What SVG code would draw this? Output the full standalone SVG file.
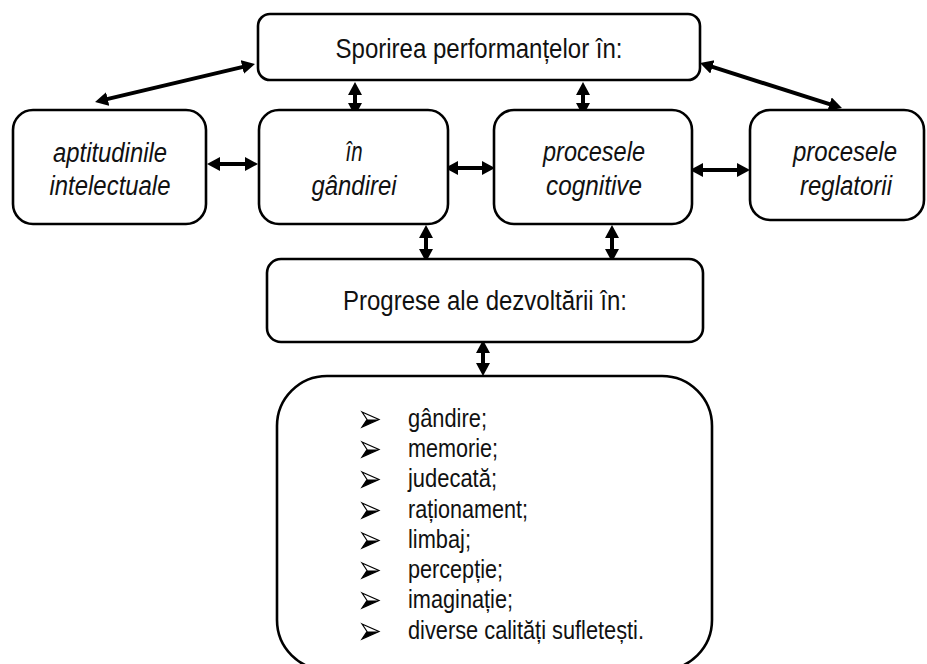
<svg xmlns="http://www.w3.org/2000/svg" width="927" height="664" viewBox="0 0 927 664">
  <style>
    .box { fill: #ffffff; stroke: #000000; stroke-width: 2.6; }
    .head { font-family: "Liberation Sans", Arial, sans-serif; font-size: 27px; fill: #111111; text-anchor: middle; }
    .lbl { font-family: "Liberation Sans", Arial, sans-serif; font-size: 27px; font-style: italic; fill: #111111; text-anchor: middle; }
    .item { font-family: "Liberation Sans", Arial, sans-serif; font-size: 25px; fill: #111111; }
    .link { fill: none; stroke: #000000; stroke-width: 4; marker-start: url(#tip); marker-end: url(#tip); }
  </style>
  <defs>
    <marker id="tip" markerUnits="userSpaceOnUse" markerWidth="15" markerHeight="15" refX="4" refY="7" orient="auto-start-reverse">
      <path d="M0,0 L13,7 L0,14 Z" fill="#000000"/>
    </marker>
    <!-- list bullet: arrowhead lit from the top, dark lower half -->
    <g id="bullet">
      <path d="M0,-15 L17,-7.5 L0,0 L5,-7.5 Z" fill="#ffffff" stroke="#000000" stroke-width="1.2" stroke-linejoin="miter"/>
      <path d="M5,-7.5 L17,-7.5 L0,0 Z" fill="#000000"/>
    </g>
  </defs>

  <rect width="927" height="664" fill="#ffffff"/>

  <!-- connectors -->
  <g id="connectors">
    <line class="link" x1="246.2" y1="66.1" x2="103.8" y2="99.9"/>
    <line class="link" x1="708.6" y1="65.7" x2="833.4" y2="105.3"/>
    <line class="link" x1="355" y1="91" x2="355" y2="107"/>
    <line class="link" x1="583" y1="91" x2="583" y2="107"/>
    <line class="link" x1="216" y1="164" x2="249" y2="164"/>
    <line class="link" x1="454" y1="168" x2="486" y2="168"/>
    <line class="link" x1="699" y1="170" x2="741" y2="170"/>
    <line class="link" x1="426" y1="234" x2="426" y2="253"/>
    <line class="link" x1="612" y1="234" x2="612" y2="253"/>
    <line class="link" x1="483" y1="349" x2="483" y2="367"/>
  </g>

  <!-- top: performance gains -->
  <g id="sporirea">
    <rect class="box" x="258" y="14" width="442" height="66" rx="12"/>
    <text class="head" x="479" y="58" textLength="287" lengthAdjust="spacingAndGlyphs">Sporirea performanțelor în:</text>
  </g>

  <g id="aptitudini">
    <rect class="box" x="13" y="110" width="193" height="114" rx="20"/>
    <text class="lbl" x="110" y="162" textLength="114" lengthAdjust="spacingAndGlyphs">aptitudinile</text>
    <text class="lbl" x="110" y="195" textLength="121" lengthAdjust="spacingAndGlyphs">intelectuale</text>
  </g>

  <g id="gandire">
    <rect class="box" x="259" y="110" width="189" height="114" rx="20"/>
    <text class="lbl" x="354" y="161" textLength="17" lengthAdjust="spacingAndGlyphs">în</text>
    <text class="lbl" x="354" y="195" textLength="85" lengthAdjust="spacingAndGlyphs">gândirei</text>
  </g>

  <g id="cognitive">
    <rect class="box" x="494" y="110" width="198" height="114" rx="20"/>
    <text class="lbl" x="594" y="161" textLength="102" lengthAdjust="spacingAndGlyphs">procesele</text>
    <text class="lbl" x="594" y="195" textLength="96" lengthAdjust="spacingAndGlyphs">cognitive</text>
  </g>

  <g id="reglatorii">
    <rect class="box" x="750" y="110" width="174" height="110" rx="20"/>
    <text class="lbl" x="845" y="161" textLength="104" lengthAdjust="spacingAndGlyphs">procesele</text>
    <text class="lbl" x="846" y="195" textLength="92" lengthAdjust="spacingAndGlyphs">reglatorii</text>
  </g>

  <!-- middle: development progress -->
  <g id="progrese">
    <rect class="box" x="267" y="259" width="436" height="83" rx="14"/>
    <text class="head" x="485" y="310" textLength="284" lengthAdjust="spacingAndGlyphs">Progrese ale dezvoltării în:</text>
  </g>

  <!-- bottom: list of areas -->
  <g id="lista">
    <rect class="box" x="277" y="376" width="435" height="294" rx="50"/>
    <use href="#bullet" x="362" y="427"/>
    <use href="#bullet" x="362" y="457"/>
    <use href="#bullet" x="362" y="487"/>
    <use href="#bullet" x="362" y="518"/>
    <use href="#bullet" x="362" y="548"/>
    <use href="#bullet" x="362" y="578"/>
    <use href="#bullet" x="362" y="608"/>
    <use href="#bullet" x="362" y="639"/>
    <text class="item" x="408" y="427" textLength="79" lengthAdjust="spacingAndGlyphs">gândire;</text>
    <text class="item" x="408" y="457" textLength="90" lengthAdjust="spacingAndGlyphs">memorie;</text>
    <text class="item" x="408" y="487" textLength="89" lengthAdjust="spacingAndGlyphs">judecată;</text>
    <text class="item" x="408" y="518" textLength="120" lengthAdjust="spacingAndGlyphs">raționament;</text>
    <text class="item" x="408" y="548" textLength="63" lengthAdjust="spacingAndGlyphs">limbaj;</text>
    <text class="item" x="408" y="578" textLength="95" lengthAdjust="spacingAndGlyphs">percepție;</text>
    <text class="item" x="408" y="608" textLength="105" lengthAdjust="spacingAndGlyphs">imaginație;</text>
    <text class="item" x="408" y="639" textLength="236" lengthAdjust="spacingAndGlyphs">diverse calități sufletești.</text>
  </g>
</svg>
